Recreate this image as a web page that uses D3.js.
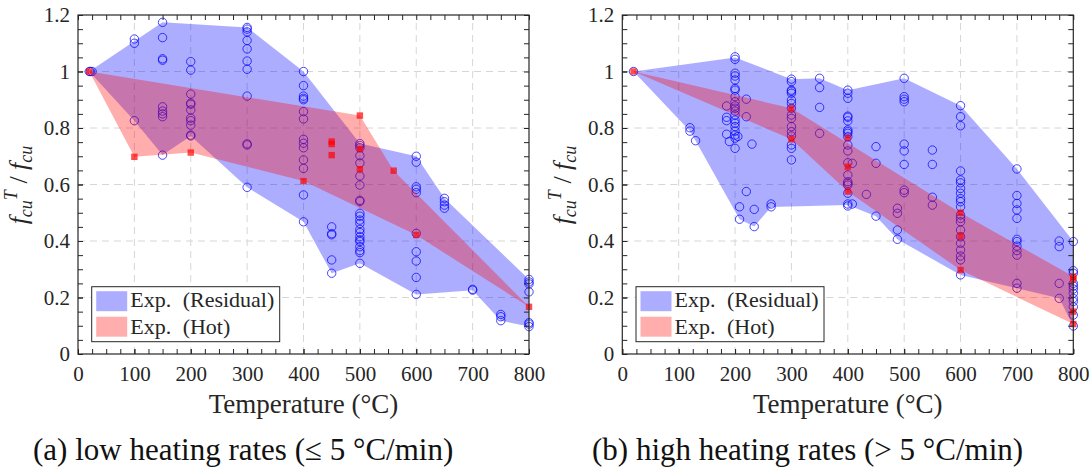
<!DOCTYPE html>
<html><head><meta charset="utf-8">
<script src="https://cdn.jsdelivr.net/npm/d3@7"></script>
<style>body{margin:0;background:#fff}</style>
</head><body>
<svg id="chart" width="1092" height="468"></svg>
<script>
// ---------- tick data ----------
const xTickValues = [0,100,200,300,400,500,600,700,800];
const xMinorTicks = d3.range(0, 801, 25);
const yTickValues = [0,0.2,0.4,0.6,0.8,1,1.2];
const yTickLabels = ["0","0.2","0.4","0.6","0.8","1","1.2"];
const yMinorTicks = d3.range(0, 1.2001, 0.05);
const legendLabels = ["Exp. (Residual)", "Exp. (Hot)"];
const xAxisTitle = "Temperature (°C)";
const panelTitles = ["(a) low heating rates (≤ 5 °C/min)", "(b) high heating rates (> 5 °C/min)"];

// ---------- (a) low heating rates ----------
const lowResidualPts = [
 [20,1],[25,1],[22,1],
 [100,1.115],[100,1.10],[100,0.826],
 [150,1.174],[150,1.12],[150,1.045],[150,1.04],[150,0.875],[150,0.86],[150,0.85],[150,0.84],[150,0.704],
 [200,1.035],[200,1.005],[200,0.92],[200,0.888],[200,0.884],[200,0.864],[200,0.835],[200,0.826],[200,0.81],[200,0.775],[200,0.772],
 [300,1.156],[300,1.15],[300,1.14],[300,1.11],[300,1.08],[300,1.037],[300,1.008],[300,0.913],[300,0.744],[300,0.74],[300,0.59],
 [400,1.0],[400,0.95],[400,0.913],[400,0.905],[400,0.9],[400,0.858],[400,0.832],[400,0.76],[400,0.746],[400,0.73],[400,0.687],[400,0.657],[400,0.563],[400,0.468],
 [450,0.45],[450,0.426],[450,0.422],[450,0.333],[450,0.286],
 [500,0.745],[500,0.738],[500,0.73],[500,0.702],[500,0.676],[500,0.63],[500,0.598],[500,0.544],[500,0.54],[500,0.498],[500,0.488],[500,0.474],[500,0.462],[500,0.441],[500,0.43],[500,0.415],[500,0.404],[500,0.398],[500,0.38],[500,0.366],[500,0.359],[500,0.321],
 [600,0.70],[600,0.679],[600,0.592],[600,0.583],[600,0.571],[600,0.427],[600,0.362],[600,0.329],[600,0.271],[600,0.211],
 [650,0.551],[650,0.539],[650,0.527],[650,0.516],
 [700,0.229],[700,0.226],
 [750,0.14],[750,0.132],[750,0.118],
 [800,0.264],[800,0.255],[800,0.248],[800,0.22],[800,0.111],[800,0.106],[800,0.097]
];
const lowHotPts = [
 [20,1],[100,0.698],[200,0.713],[400,0.612],[450,0.752],[450,0.743],[450,0.704],
 [500,0.844],[500,0.726],[500,0.654],[560,0.649],[600,0.421],[800,0.167]
];
const lowResidualUpper = [[20,1],[150,1.174],[300,1.156],[400,1.0],[500,0.745],[600,0.70],[650,0.551],[800,0.264]];
const lowResidualLower = [[20,1],[100,0.826],[150,0.704],[200,0.772],[300,0.59],[400,0.468],[450,0.286],[500,0.321],[600,0.211],[700,0.226],[750,0.118],[800,0.097]];
const lowHotUpper = [[20,1],[500,0.844],[560,0.649],[800,0.167]];
const lowHotLower = [[20,1],[100,0.698],[200,0.713],[400,0.612],[600,0.421],[800,0.167]];

// ---------- (b) high heating rates ----------
const highResidualPts = [
 [20,1],
 [120,0.801],[120,0.789],[130,0.755],
 [185,0.838],[185,0.826],[185,0.778],[185,0.878],[190,0.752],
 [200,1.052],[200,1.043],[200,0.994],[200,0.984],[200,0.97],[200,0.94],[200,0.934],[200,0.911],[200,0.893],[200,0.878],[200,0.87],[200,0.86],[200,0.846],[200,0.828],[200,0.817],[200,0.805],[200,0.789],[200,0.775],[200,0.764],[200,0.728],
 [205,0.77],[208,0.521],[208,0.477],[220,0.902],[220,0.84],[220,0.575],[230,0.743],[234,0.512],[234,0.451],[264,0.531],[264,0.521],
 [300,0.973],[300,0.964],[300,0.934],[300,0.93],[300,0.923],[300,0.899],[300,0.887],[300,0.87],[300,0.846],[300,0.834],[300,0.805],[300,0.787],[300,0.772],[300,0.74],[300,0.728],[300,0.687],
 [350,0.976],[350,0.943],[350,0.873],[350,0.781],
 [400,0.934],[400,0.923],[400,0.905],[400,0.842],[400,0.838],[400,0.825],[400,0.793],[400,0.787],[400,0.781],[400,0.769],[400,0.74],[400,0.719],[400,0.677],[400,0.634],[400,0.61],[400,0.604],[400,0.598],[400,0.569],[400,0.531],[400,0.524],
 [408,0.675],[408,0.531],[433,0.565],[450,0.734],[450,0.675],[450,0.488],
 [488,0.516],[488,0.498],[488,0.439],[488,0.406],
 [500,0.976],[500,0.911],[500,0.902],[500,0.893],[500,0.743],[500,0.719],[500,0.671],[500,0.58],[500,0.571],
 [550,0.722],[550,0.671],[550,0.555],[550,0.527],
 [600,0.879],[600,0.84],[600,0.808],[600,0.648],[600,0.616],[600,0.606],[600,0.586],[600,0.569],[600,0.55],[600,0.539],[600,0.521],[600,0.492],[600,0.48],[600,0.468],[600,0.439],[600,0.415],[600,0.392],[600,0.368],[600,0.347],[600,0.333],[600,0.28],
 [700,0.655],[700,0.561],[700,0.533],[700,0.51],[700,0.48],[700,0.406],[700,0.398],[700,0.382],[700,0.366],[700,0.35],[700,0.25],[700,0.233],
 [775,0.40],[775,0.38],[775,0.25],[775,0.197],
 [800,0.398],[800,0.295],[800,0.286],[800,0.25],[800,0.24],[800,0.23],[800,0.215],[800,0.197],[800,0.186],[800,0.167],[800,0.138],[800,0.099]
];
const highHotPts = [
 [20,1],[300,0.87],[300,0.76],[400,0.765],[400,0.663],[400,0.575],
 [600,0.50],[600,0.418],[600,0.297],[800,0.274],[800,0.264],[800,0.15],[800,0.106]
];
const highResidualUpper = [[20,1],[200,1.05],[300,0.973],[350,0.976],[400,0.934],[500,0.976],[600,0.879],[700,0.655],[800,0.398]];
const highResidualLower = [[20,1],[120,0.789],[130,0.755],[208,0.477],[234,0.451],[264,0.52],[400,0.527],[450,0.488],[488,0.406],[600,0.28],[700,0.233],[775,0.197],[800,0.099]];
const highHotUpper = [[20,1],[300,0.87],[600,0.50],[800,0.274]];
const highHotLower = [[20,1],[300,0.76],[400,0.575],[600,0.297],[800,0.106]];

// ---------- drawing ----------
const FONT = "'Liberation Serif', 'Times New Roman', serif";
const INK = "#262626";
const svg = d3.select("#chart");

const panels = [
  {x0: 78, res: lowResidualPts, hot: lowHotPts, ru: lowResidualUpper, rl: lowResidualLower, hu: lowHotUpper, hl: lowHotLower, title: panelTitles[0], titleX: 33},
  {x0: 622.3, res: highResidualPts, hot: highHotPts, ru: highResidualUpper, rl: highResidualLower, hu: highHotUpper, hl: highHotLower, title: panelTitles[1], titleX: 592}
];

panels.forEach(p => {
  const x = d3.scaleLinear().domain([0, 800]).range([p.x0, p.x0 + 451]);
  const y = d3.scaleLinear().domain([0, 1.2]).range([354, 15]);
  const g = svg.append("g");

  // grid
  g.append("g").selectAll("line").data(xTickValues.slice(1, -1)).join("line")
    .attr("x1", d => x(d)).attr("x2", d => x(d)).attr("y1", y(0)).attr("y2", y(1.2))
    .attr("stroke", "#d6d6d6").attr("stroke-width", 1).attr("stroke-dasharray", "7,5");
  g.append("g").selectAll("line").data(yTickValues.slice(1, -1)).join("line")
    .attr("y1", d => y(d)).attr("y2", d => y(d)).attr("x1", x(0)).attr("x2", x(800))
    .attr("stroke", "#d6d6d6").attr("stroke-width", 1).attr("stroke-dasharray", "7,5");

  const line = d3.line().x(d => x(d[0])).y(d => y(d[1]));
  const poly = (up, lo) => line(up.concat(lo.slice().reverse())) + "Z";

  // residual envelope and points
  g.append("path").attr("d", poly(p.ru, p.rl)).attr("fill", "#0000ff").attr("fill-opacity", 0.32);
  g.append("g").selectAll("circle").data(p.res).join("circle")
    .attr("cx", d => x(d[0])).attr("cy", d => y(d[1])).attr("r", 4.2)
    .attr("fill", "none").attr("stroke", "#0000ff").attr("stroke-opacity", 0.72).attr("stroke-width", 1);

  // hot envelope and points
  g.append("path").attr("d", poly(p.hu, p.hl)).attr("fill", "#ff0000").attr("fill-opacity", 0.32);
  g.append("g").selectAll("rect").data(p.hot).join("rect")
    .attr("x", d => x(d[0]) - 3.2).attr("y", d => y(d[1]) - 3.2).attr("width", 6.4).attr("height", 6.4)
    .attr("fill", "#ff0000").attr("fill-opacity", 0.7);

  // axes
  const styleAxis = sel => {
    sel.select(".domain").remove();
    sel.selectAll("line").attr("stroke", INK);
    sel.selectAll("text").attr("fill", INK).style("font-family", FONT).style("font-size", "21px");
  };
  g.append("g").attr("transform", `translate(0,${y(0)})`)
    .call(d3.axisBottom(x).tickValues(xMinorTicks).tickFormat("").tickSizeInner(-5).tickSizeOuter(0)).call(styleAxis);
  g.append("g").attr("transform", `translate(0,${y(1.2)})`)
    .call(d3.axisTop(x).tickValues(xMinorTicks).tickFormat("").tickSizeInner(-5).tickSizeOuter(0)).call(styleAxis);
  g.append("g").attr("transform", `translate(${x(0)},0)`)
    .call(d3.axisLeft(y).tickValues(yMinorTicks).tickFormat("").tickSizeInner(-5).tickSizeOuter(0)).call(styleAxis);
  g.append("g").attr("transform", `translate(${x(800)},0)`)
    .call(d3.axisRight(y).tickValues(yMinorTicks).tickFormat("").tickSizeInner(-5).tickSizeOuter(0)).call(styleAxis);
  // labeled axes
  g.append("g").attr("transform", `translate(0,${y(0)})`)
    .call(d3.axisBottom(x).tickValues(xTickValues).tickFormat(d3.format("d")).tickSizeInner(-5).tickSizeOuter(0).tickPadding(12)).call(styleAxis);
  g.append("g").attr("transform", `translate(${x(0)},0)`)
    .call(d3.axisLeft(y).tickValues(yTickValues).tickFormat((d, i) => yTickLabels[i]).tickSizeInner(-5).tickSizeOuter(0).tickPadding(8)).call(styleAxis);

  // frame
  g.append("rect").attr("x", x(0)).attr("y", y(1.2)).attr("width", x(800) - x(0)).attr("height", y(0) - y(1.2))
    .attr("fill", "none").attr("stroke", INK).attr("stroke-width", 1.2);

  // legend
  const lg = g.append("g").attr("transform", `translate(${p.x0 + 13.7},286.7)`);
  lg.append("rect").attr("width", 188).attr("height", 55).attr("fill", "#fff").attr("stroke", INK).attr("stroke-width", 1);
  lg.append("rect").attr("x", 4.5).attr("y", 4.5).attr("width", 31).attr("height", 20).attr("fill", "#0000ff").attr("fill-opacity", 0.32);
  lg.append("rect").attr("x", 4.5).attr("y", 30).attr("width", 31).attr("height", 20).attr("fill", "#ff0000").attr("fill-opacity", 0.32);
  legendLabels.forEach((t, i) => {
    lg.append("text").attr("x", 38.5).attr("y", 20 + i * 27.2).text(t)
      .attr("fill", INK).style("font-family", FONT).style("font-size", "22px").style("word-spacing", "6px");
  });

  // x axis title
  g.append("text").attr("x", (x(0) + x(800)) / 2).attr("y", 413).attr("text-anchor", "middle").text(xAxisTitle)
    .attr("fill", INK).style("font-family", FONT).style("font-size", "27px");

  // y axis title
  const yl = g.append("text").attr("transform", `translate(${p.x0 - 51},185) rotate(-90)`).attr("text-anchor", "middle")
    .attr("fill", INK).style("font-family", FONT).style("font-size", "26px").style("font-style", "italic");
  yl.append("tspan").text("f");
  yl.append("tspan").text("cu").attr("dy", 5).style("font-size", "18px");
  yl.append("tspan").text("T").attr("dy", -15).style("font-size", "18px");
  yl.append("tspan").text(" / ").attr("dy", 10).style("font-style", "normal");
  yl.append("tspan").text("f");
  yl.append("tspan").text("cu").attr("dy", 5).style("font-size", "18px");

  // panel caption
  svg.append("text").attr("x", p.titleX).attr("y", 460).text(p.title)
    .attr("fill", "#111").style("font-family", FONT).style("font-size", "31px");
});
</script>
</body></html>
